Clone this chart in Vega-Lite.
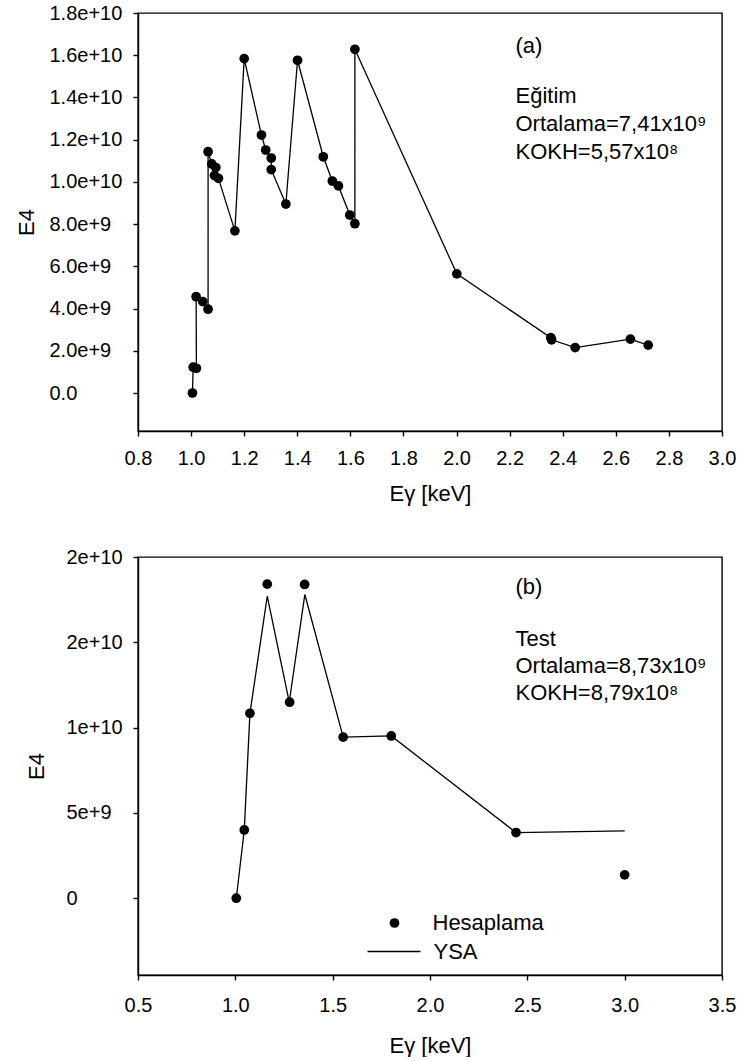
{
  "$schema": "https://vega.github.io/schema/vega-lite/v6.json",
  "background": "white",
  "padding": {"left": 14, "top": 2, "right": 0, "bottom": 0},
  "config": {
    "font": "Liberation Sans",
    "view": {"stroke": "black", "strokeWidth": 1.4},
    "axis": {
      "grid": false,
      "domainColor": "black",
      "domainWidth": 1.4,
      "tickColor": "black",
      "tickWidth": 1.4,
      "tickSize": 5,
      "labelColor": "black",
      "labelFontSize": 20,
      "labelFlush": false,
      "labelOverlap": false,
      "titleColor": "black",
      "titleFontSize": 22,
      "titleFontWeight": "normal"
    },
    "legend": {"labelFontSize": 22, "labelColor": "black"}
  },
  "datasets": {
    "train": [
      {"i": 1, "E": 1.005, "E4": 0},
      {"i": 2, "E": 1.008, "E4": 1.22e9},
      {"i": 3, "E": 1.02, "E4": 1.17e9},
      {"i": 4, "E": 1.019, "E4": 4.56e9},
      {"i": 5, "E": 1.044, "E4": 4.33e9},
      {"i": 6, "E": 1.064, "E4": 3.97e9},
      {"i": 7, "E": 1.064, "E4": 1.143e10},
      {"i": 8, "E": 1.078, "E4": 1.085e10},
      {"i": 9, "E": 1.093, "E4": 1.068e10},
      {"i": 10, "E": 1.088, "E4": 1.03e10},
      {"i": 11, "E": 1.103, "E4": 1.017e10},
      {"i": 12, "E": 1.165, "E4": 7.68e9},
      {"i": 13, "E": 1.2, "E4": 1.584e10},
      {"i": 14, "E": 1.265, "E4": 1.222e10},
      {"i": 15, "E": 1.281, "E4": 1.151e10},
      {"i": 16, "E": 1.302, "E4": 1.113e10},
      {"i": 17, "E": 1.302, "E4": 1.058e10},
      {"i": 18, "E": 1.357, "E4": 8.95e9},
      {"i": 19, "E": 1.401, "E4": 1.576e10},
      {"i": 20, "E": 1.498, "E4": 1.119e10},
      {"i": 21, "E": 1.532, "E4": 1.004e10},
      {"i": 22, "E": 1.555, "E4": 9.81e9},
      {"i": 23, "E": 1.598, "E4": 8.43e9},
      {"i": 24, "E": 1.617, "E4": 8.02e9},
      {"i": 25, "E": 1.617, "E4": 1.628e10},
      {"i": 26, "E": 2.001, "E4": 5.645e9},
      {"i": 27, "E": 2.355, "E4": 2.62e9},
      {"i": 28, "E": 2.358, "E4": 2.52e9},
      {"i": 29, "E": 2.447, "E4": 2.15e9},
      {"i": 30, "E": 2.655, "E4": 2.55e9},
      {"i": 31, "E": 2.722, "E4": 2.27e9}
    ],
    "ysa": [
      {"sl": "YSA", "E": 1.005, "E4": 0},
      {"sl": "YSA", "E": 1.046, "E4": 4.0e9},
      {"sl": "YSA", "E": 1.075, "E4": 1.084e10},
      {"sl": "YSA", "E": 1.164, "E4": 1.77e10},
      {"sl": "YSA", "E": 1.277, "E4": 1.15e10},
      {"sl": "YSA", "E": 1.357, "E4": 1.78e10},
      {"sl": "YSA", "E": 1.554, "E4": 9.44e9},
      {"sl": "YSA", "E": 1.801, "E4": 9.51e9},
      {"sl": "YSA", "E": 2.442, "E4": 3.85e9},
      {"sl": "YSA", "E": 3.0, "E4": 3.95e9}
    ],
    "hesap": [
      {"sp": "Hesaplama", "E": 1.005, "E4": 0},
      {"sp": "Hesaplama", "E": 1.046, "E4": 4.0e9},
      {"sp": "Hesaplama", "E": 1.075, "E4": 1.084e10},
      {"sp": "Hesaplama", "E": 1.164, "E4": 1.841e10},
      {"sp": "Hesaplama", "E": 1.279, "E4": 1.149e10},
      {"sp": "Hesaplama", "E": 1.356, "E4": 1.839e10},
      {"sp": "Hesaplama", "E": 1.554, "E4": 9.44e9},
      {"sp": "Hesaplama", "E": 1.801, "E4": 9.51e9},
      {"sp": "Hesaplama", "E": 2.442, "E4": 3.85e9},
      {"sp": "Hesaplama", "E": 3.0, "E4": 1.37e9}
    ]
  },
  "spacing": 41,
  "resolve": {
    "scale": {"x": "independent", "y": "independent", "shape": "independent", "color": "independent"},
    "legend": {"shape": "independent", "color": "independent"}
  },
  "vconcat": [
    {
      "width": 584,
      "height": 418,
      "layer": [
        {
          "data": {"name": "train"},
          "mark": {"type": "line", "color": "black", "strokeWidth": 1.3},
          "encoding": {
            "x": {"field": "E", "type": "quantitative",
              "scale": {"domain": [0.8, 3.0], "nice": false, "zero": false},
              "axis": {"values": [0.8, 1.0, 1.2, 1.4, 1.6, 1.8, 2.0, 2.2, 2.4, 2.6, 2.8, 3.0], "format": ".1f", "labelPadding": 12, "titlePadding": 15, "title": "Eγ [keV]"}},
            "y": {"field": "E4", "type": "quantitative",
              "scale": {"domain": [-1.8e9, 1.8e10], "nice": false, "zero": false},
              "axis": {"values": [0, 2e9, 4e9, 6e9, 8e9, 1e10, 1.2e10, 1.4e10, 1.6e10, 1.8e10],
                "labelExpr": "datum.value == 0 ? '0.0' : format(datum.value, '.1e')",
                "labelAlign": "left", "labelPadding": 84, "titlePadding": 11, "title": "E4"}},
            "order": {"field": "i", "type": "quantitative"}
          }
        },
        {
          "data": {"name": "train"},
          "mark": {"type": "point", "filled": true, "color": "black", "opacity": 1, "size": 95},
          "encoding": {
            "x": {"field": "E", "type": "quantitative"},
            "y": {"field": "E4", "type": "quantitative"}
          }
        },
        {
          "data": {"values": [{}]},
          "mark": {"type": "text", "align": "left", "baseline": "alphabetic", "fontSize": 22, "color": "black"},
          "encoding": {
            "x": {"datum": 2.222, "type": "quantitative"},
            "y": {"datum": 1.612e10, "type": "quantitative"},
            "text": {"value": "(a)"}
          }
        },
        {
          "data": {"values": [{}]},
          "mark": {"type": "text", "align": "left", "baseline": "alphabetic", "fontSize": 22, "lineHeight": 28, "color": "black"},
          "encoding": {
            "x": {"datum": 2.222, "type": "quantitative"},
            "y": {"datum": 1.376e10, "type": "quantitative"},
            "text": {"value": ["Eğitim", "Ortalama=7,41x10⁹", "KOKH=5,57x10⁸"]}
          }
        }
      ]
    },
    {
      "width": 584,
      "height": 418,
      "layer": [
        {
          "data": {"name": "ysa"},
          "mark": {"type": "line", "strokeWidth": 1.3},
          "encoding": {
            "x": {"field": "E", "type": "quantitative",
              "scale": {"domain": [0.5, 3.5], "nice": false, "zero": false},
              "axis": {"values": [0.5, 1.0, 1.5, 2.0, 2.5, 3.0, 3.5], "format": ".1f", "labelPadding": 15, "titlePadding": 20, "title": "Eγ [keV]"}},
            "y": {"field": "E4", "type": "quantitative",
              "scale": {"domain": [-4.5e9, 2e10], "nice": false, "zero": false},
              "axis": {"values": [0, 5e9, 1e10, 1.5e10, 2e10],
                "labelExpr": "datum.value == 0 ? '0' : format(datum.value, '.0e')",
                "labelAlign": "left", "labelPadding": 67, "titlePadding": 18, "title": "E4"}},
            "color": {"field": "sl", "type": "nominal",
              "scale": {"domain": ["YSA"], "range": ["black"]},
              "legend": {"title": null, "orient": "none", "legendX": 228.5, "legendY": 367, "labelOffset": 12, "symbolSize": 2809, "symbolStrokeWidth": 1.3, "symbolType": "stroke"}}
          }
        },
        {
          "data": {"name": "hesap"},
          "mark": {"type": "point", "filled": true, "color": "black", "opacity": 1, "size": 95},
          "encoding": {
            "x": {"field": "E", "type": "quantitative"},
            "y": {"field": "E4", "type": "quantitative"},
            "shape": {"field": "sp", "type": "nominal",
              "scale": {"domain": ["Hesaplama"], "range": ["circle"]},
              "legend": {"title": null, "orient": "none", "legendX": 245.5, "legendY": 355, "labelOffset": 27, "symbolSize": 95, "symbolFillColor": "black", "symbolOpacity": 1}}
          }
        },
        {
          "data": {"values": [{}]},
          "mark": {"type": "text", "align": "left", "baseline": "alphabetic", "fontSize": 22, "color": "black"},
          "encoding": {
            "x": {"datum": 2.439, "type": "quantitative"},
            "y": {"datum": 1.782e10, "type": "quantitative"},
            "text": {"value": "(b)"}
          }
        },
        {
          "data": {"values": [{}]},
          "mark": {"type": "text", "align": "left", "baseline": "alphabetic", "fontSize": 22, "lineHeight": 27, "color": "black"},
          "encoding": {
            "x": {"datum": 2.439, "type": "quantitative"},
            "y": {"datum": 1.479e10, "type": "quantitative"},
            "text": {"value": ["Test", "Ortalama=8,73x10⁹", "KOKH=8,79x10⁸"]}
          }
        }
      ]
    }
  ]
}
